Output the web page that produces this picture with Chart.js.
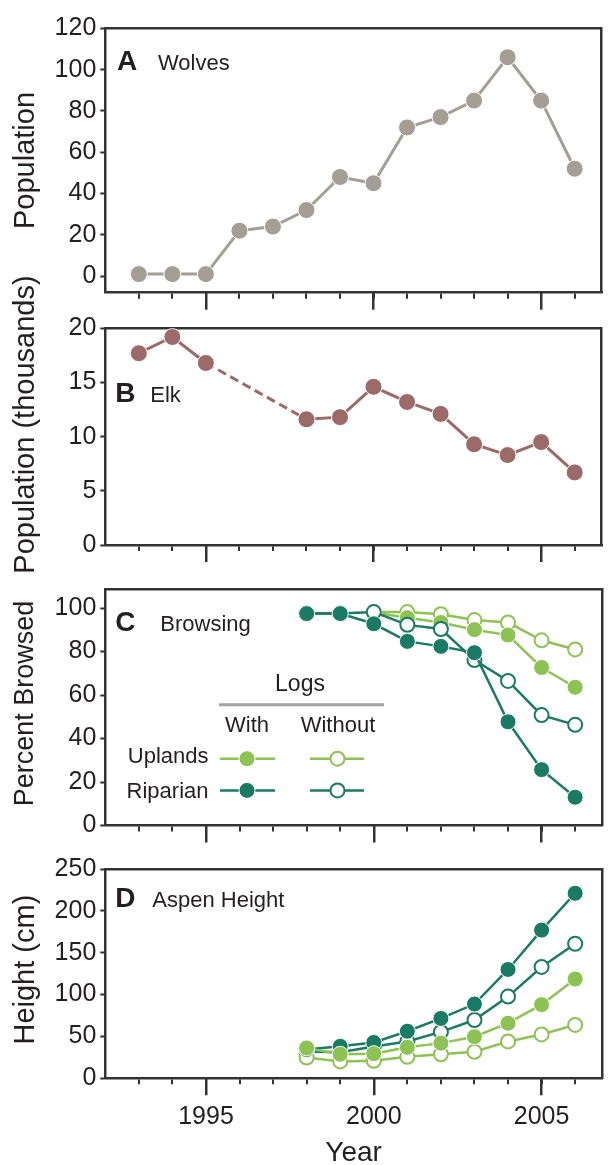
<!DOCTYPE html>
<html>
<head>
<meta charset="utf-8">
<script src="https://cdn.jsdelivr.net/npm/chart.js@4.4.1/dist/chart.umd.min.js"></script>
<style>
html,body{margin:0;padding:0;background:#fff;width:611px;height:1165px;overflow:hidden;position:relative}
canvas{position:absolute;left:0}
</style>
</head>
<body>
<canvas id="cA" width="611" height="330" style="top:0px"></canvas>
<canvas id="cB" width="611" height="330" style="top:250px"></canvas>
<canvas id="cC" width="611" height="290" style="top:570px"></canvas>
<canvas id="cD" width="611" height="330" style="top:850px"></canvas>
<script>
// ---------- data ----------
const years = [1993,1994,1995,1996,1997,1998,1999,2000,2001,2002,2003,2004,2005,2006];
const majorYears = [1995, 2000, 2005];

const wolves = [1,1,1,22,24,32,48,45,72,77,85,106,85,52];
const elk = [17.7,19.2,16.8,null,null,11.6,11.8,14.6,13.2,12.1,9.3,8.3,9.5,6.7];

const browseRipWith    = [null,null,null,null,null,97.5,97.5,92.8,84.7,82.4,79.5,47.7,25.7,13.0];
const browseRipWithout = [null,null,null,null,null,97.5,97.5,98.2,92.3,90.4,76.1,66.5,50.8,46.3];
const browseUpWith     = [null,null,null,null,null,null,null,98.0,95.6,93.4,90.1,87.6,72.7,63.6];
const browseUpWithout  = [null,null,null,null,null,null,null,98.2,98.2,97.2,94.5,93.4,85.2,81.0];

const heightRipWith    = [null,null,null,null,null,34.4,38.2,42.8,56.2,71.5,88.7,130,177,221];
const heightRipWithout = [null,null,null,null,null,32,31,38,44,55.4,69.6,97.6,133,160.7];
const heightUpWith     = [null,null,null,null,null,36.3,28.7,29.4,37,42,49.7,65.8,88,118.6];
const heightUpWithout  = [null,null,null,null,null,24.8,20.2,21,25.6,28.7,31.7,44,52.4,63.8];

const yTicksA = [0,20,40,60,80,100,120];
const yTicksB = [0,5,10,15,20];
const yTicksC = [0,20,40,60,80,100];
const yTicksD = [0,50,100,150,200,250];

// ---------- styles ----------
const FONT = '"Liberation Sans", Arial, sans-serif';
const TXT = '#231f20';
const AX = '#333333';
const C_WOLF = '#a59e95';
const C_ELK = '#9c6b69';
const C_LIGHT = '#8dc352';
const C_DARK = '#1a7b65';

Chart.defaults.font.family = FONT;
Chart.defaults.color = TXT;

const panelLabel = {
  id: 'panelLabel',
  afterDraw(chart, args, o) {
    const {ctx, chartArea: a} = chart;
    ctx.save();
    ctx.fillStyle = TXT;
    ctx.textBaseline = 'alphabetic';
    ctx.textAlign = 'left';
    ctx.font = 'bold 28px ' + FONT;
    ctx.fillText(o.letter, a.left + o.lx, a.top + o.by);
    ctx.font = '22px ' + FONT;
    ctx.fillText(o.name, a.left + o.nx, a.top + o.by);
    ctx.restore();
  }
};

const logsLegend = {
  id: 'logsLegend',
  afterDraw(chart, args, o) {
    if (!o.show) return;
    const {ctx, chartArea: a} = chart;
    const X = v => a.left + (v - 105.3);
    const Y = v => a.top + (v - 579.3);
    ctx.save();
    ctx.fillStyle = TXT;
    ctx.font = '23px ' + FONT;
    ctx.textBaseline = 'alphabetic';
    ctx.textAlign = 'center';
    ctx.fillText('Logs', X(300), Y(681.7));
    ctx.strokeStyle = '#a3a3a3';
    ctx.lineWidth = 3;
    ctx.beginPath(); ctx.moveTo(X(219), Y(695)); ctx.lineTo(X(384), Y(695)); ctx.stroke();
    ctx.font = '22px ' + FONT;
    ctx.fillText('With', X(247), Y(722.7));
    ctx.fillText('Without', X(338), Y(722.7));
    ctx.textAlign = 'right';
    ctx.fillText('Uplands', X(208.5), Y(753.3));
    ctx.fillText('Riparian', X(208.5), Y(788.3));
    const rows = [[C_LIGHT, 749], [C_DARK, 780.7]];
    for (const [col, yy] of rows) {
      ctx.strokeStyle = col;
      ctx.lineWidth = 2.5;
      ctx.beginPath(); ctx.moveTo(X(220), Y(yy)); ctx.lineTo(X(275), Y(yy)); ctx.stroke();
      ctx.beginPath(); ctx.moveTo(X(310), Y(yy)); ctx.lineTo(X(364), Y(yy)); ctx.stroke();
      ctx.beginPath(); ctx.arc(X(247), Y(yy), 8, 0, Math.PI * 2);
      ctx.fillStyle = col; ctx.fill();
      ctx.lineWidth = 1; ctx.strokeStyle = '#fff'; ctx.stroke();
      ctx.beginPath(); ctx.arc(X(337.5), Y(yy), 7, 0, Math.PI * 2);
      ctx.fillStyle = '#fff'; ctx.fill();
      ctx.lineWidth = 2; ctx.strokeStyle = col; ctx.stroke();
    }
    ctx.restore();
  }
};

function filledDS(label, data, color, r) {
  return {label, data, xAxisID: 'x', yAxisID: 'y', borderColor: color, backgroundColor: color, borderWidth: 2.5,
    pointRadius: r, pointBackgroundColor: color, pointBorderColor: '#ffffff', pointBorderWidth: 1,
    spanGaps: false};
}
function openDS(label, data, color, r) {
  return {label, data, xAxisID: 'x', yAxisID: 'y', borderColor: color, backgroundColor: '#ffffff', borderWidth: 2.5,
    pointRadius: r, pointBackgroundColor: '#ffffff', pointBorderColor: color, pointBorderWidth: 2,
    spanGaps: false};
}

function makeChart(id, cfg) {
  return new Chart(document.getElementById(id), {
    type: 'line',
    data: {labels: years, datasets: cfg.datasets},
    options: {
      responsive: false,
      animation: false,
      events: [],
      layout: {padding: {top: cfg.padTop, right: 1, bottom: 0, left: 0}},
      plugins: {
        legend: {display: false},
        tooltip: {enabled: false},
        panelLabel: cfg.label,
        logsLegend: {show: !!cfg.legend}
      },
      scales: {
        y: {
          type: 'linear', position: 'left', min: cfg.yMin, max: cfg.yMax,
          afterBuildTicks: s => { s.ticks = cfg.yTicks.map(v => ({value: v})); },
          afterFit: s => { s.width = 105.3; },
          ticks: {padding: 4, color: TXT, font: {size: 25}},
          grid: {drawOnChartArea: false, drawTicks: true, tickLength: 5, tickWidth: 2, tickColor: AX, color: AX},
          border: {display: true, color: AX, width: 2.5},
          title: {display: true, text: cfg.yTitle, color: TXT, font: {size: cfg.yTitleSize || 29}, padding: {top: 9, bottom: 0}}
        },
        x: {
          type: 'linear', position: 'bottom', min: 1992, max: 2006.8, weight: 0,
          afterBuildTicks: s => { s.ticks = years.map(v => ({value: v})); },
          afterFit: s => { s.height = 0; },
          ticks: {display: false},
          grid: {drawOnChartArea: false, drawTicks: true, tickLength: 6, tickWidth: 2, tickColor: AX, color: AX, lineWidth: 2},
          border: {display: true, color: AX, width: 2.5}
        },
        xMajor: {
          type: 'linear', position: 'bottom', min: 1992, max: 2006.8, weight: 1,
          afterBuildTicks: s => { s.ticks = majorYears.map(v => ({value: v})); },
          afterFit: s => { s.height = cfg.bottomH; },
          ticks: {display: !!cfg.xLabels, padding: 7, color: TXT, font: {size: 25}, callback: v => String(v)},
          grid: {drawOnChartArea: false, drawTicks: true, tickLength: 17, tickWidth: 2.5, tickColor: AX, color: AX, lineWidth: 2.5},
          border: {display: false},
          title: {display: !!cfg.xLabels, text: 'Year', color: TXT, font: {size: 28}, padding: {top: 0, bottom: 10}}
        },
        xTop: {
          type: 'linear', position: 'top', min: 0, max: 1,
          afterFit: s => { s.height = 0; },
          ticks: {display: false},
          grid: {display: true, drawOnChartArea: false, drawTicks: false},
          border: {display: true, color: AX, width: 2.5}
        },
        yRight: {
          type: 'linear', position: 'right', min: 0, max: 1,
          afterFit: s => { s.width = 0; },
          ticks: {display: false},
          grid: {display: true, drawOnChartArea: false, drawTicks: false},
          border: {display: true, color: AX, width: 2.5}
        }
      }
    },
    plugins: [panelLabel, logsLegend]
  });
}

// ---------- panels ----------
makeChart('cA', {
  padTop: 28.3, bottomH: 37.3, yMin: -8, yMax: 120, yTicks: yTicksA,
  yTitle: 'Population',
  label: {letter: 'A', name: 'Wolves', lx: 11.7, nx: 52.7, by: 41.7},
  datasets: [Object.assign(filledDS('Wolves', wolves, C_WOLF, 8.5), {borderWidth: 3})]
});

const elkDS = Object.assign(filledDS('Elk', elk, C_ELK, 8.5), {
  borderWidth: 3,
  spanGaps: true,
  segment: {borderDash: ctx => (ctx.p0.skip || ctx.p1.skip) ? [9, 5] : undefined}
});
makeChart('cB', {
  padTop: 78.3, bottomH: 35, yMin: 0, yMax: 20, yTicks: yTicksB,
  yTitle: '   Population (thousands)',
  label: {letter: 'B', name: 'Elk', lx: 10, nx: 45, by: 73.4},
  datasets: [elkDS]
});

makeChart('cC', {
  padTop: 9.3, bottomH: 34.5, yMin: 0, yMax: 108.8, yTicks: yTicksC,
  yTitle: ' Percent Browsed', yTitleSize: 27,
  label: {letter: 'C', name: 'Browsing', lx: 10, nx: 55, by: 42.4},
  legend: true,
  datasets: [
    filledDS('Riparian, with logs', browseRipWith, C_DARK, 8),
    openDS('Riparian, without logs', browseRipWithout, C_DARK, 7),
    filledDS('Uplands, with logs', browseUpWith, C_LIGHT, 8),
    openDS('Uplands, without logs', browseUpWithout, C_LIGHT, 7)
  ]
});

makeChart('cD', {
  padTop: 10.5, bottomH: 101.7, yMin: 0, yMax: 250, yTicks: yTicksD,
  yTitle: ' Height (cm)', xLabels: true,
  label: {letter: 'D', name: 'Aspen Height', lx: 10, nx: 47, by: 37.8},
  datasets: [
    filledDS('Uplands, with logs', heightUpWith, C_LIGHT, 8),
    filledDS('Riparian, with logs', heightRipWith, C_DARK, 8),
    openDS('Uplands, without logs', heightUpWithout, C_LIGHT, 7),
    openDS('Riparian, without logs', heightRipWithout, C_DARK, 7)
  ]
});
</script>
</body>
</html>
